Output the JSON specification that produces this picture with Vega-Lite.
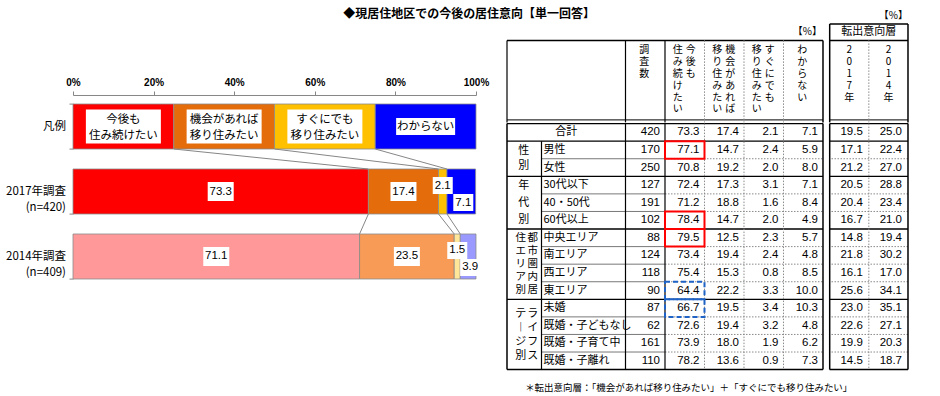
{
"$schema":"https://vega.github.io/schema/vega-lite/v6.json",
"padding":{"left":5,"top":1.6,"right":5,"bottom":0},
"autosize":{"type":"pad"},
"title":{"text":"◆現居住地区での今後の居住意向【単一回答】","anchor":"middle","frame":"bounds","fontSize":12,"fontWeight":"bold","font":"Noto Sans CJK JP","color":"#000","offset":-19,"dx":12},
"config":{"view":{"stroke":null},"font":"Noto Sans CJK JP","text":{"font":"Noto Sans CJK JP","color":"#000"}},
"datasets":{
"rows":[
{"row":"合計","調査数":420,"今後も住み続けたい":73.3,"機会があれば移り住みたい":17.4,"すぐにでも移り住みたい":2.1,"わからない":7.1,"2017年":19.5,"2014年":25.0},
{"row":"男性","調査数":170,"今後も住み続けたい":77.1,"機会があれば移り住みたい":14.7,"すぐにでも移り住みたい":2.4,"わからない":5.9,"2017年":17.1,"2014年":22.4},
{"row":"女性","調査数":250,"今後も住み続けたい":70.8,"機会があれば移り住みたい":19.2,"すぐにでも移り住みたい":2.0,"わからない":8.0,"2017年":21.2,"2014年":27.0},
{"row":"30代以下","調査数":127,"今後も住み続けたい":72.4,"機会があれば移り住みたい":17.3,"すぐにでも移り住みたい":3.1,"わからない":7.1,"2017年":20.5,"2014年":28.8},
{"row":"40・50代","調査数":191,"今後も住み続けたい":71.2,"機会があれば移り住みたい":18.8,"すぐにでも移り住みたい":1.6,"わからない":8.4,"2017年":20.4,"2014年":23.4},
{"row":"60代以上","調査数":102,"今後も住み続けたい":78.4,"機会があれば移り住みたい":14.7,"すぐにでも移り住みたい":2.0,"わからない":4.9,"2017年":16.7,"2014年":21.0},
{"row":"中央エリア","調査数":88,"今後も住み続けたい":79.5,"機会があれば移り住みたい":12.5,"すぐにでも移り住みたい":2.3,"わからない":5.7,"2017年":14.8,"2014年":19.4},
{"row":"南エリア","調査数":124,"今後も住み続けたい":73.4,"機会があれば移り住みたい":19.4,"すぐにでも移り住みたい":2.4,"わからない":4.8,"2017年":21.8,"2014年":30.2},
{"row":"西エリア","調査数":118,"今後も住み続けたい":75.4,"機会があれば移り住みたい":15.3,"すぐにでも移り住みたい":0.8,"わからない":8.5,"2017年":16.1,"2014年":17.0},
{"row":"東エリア","調査数":90,"今後も住み続けたい":64.4,"機会があれば移り住みたい":22.2,"すぐにでも移り住みたい":3.3,"わからない":10.0,"2017年":25.6,"2014年":34.1},
{"row":"未婚","調査数":87,"今後も住み続けたい":66.7,"機会があれば移り住みたい":19.5,"すぐにでも移り住みたい":3.4,"わからない":10.3,"2017年":23.0,"2014年":35.1},
{"row":"既婚・子どもなし","調査数":62,"今後も住み続けたい":72.6,"機会があれば移り住みたい":19.4,"すぐにでも移り住みたい":3.2,"わからない":4.8,"2017年":22.6,"2014年":27.1},
{"row":"既婚・子育て中","調査数":161,"今後も住み続けたい":73.9,"機会があれば移り住みたい":18.0,"すぐにでも移り住みたい":1.9,"わからない":6.2,"2017年":19.9,"2014年":20.3},
{"row":"既婚・子離れ","調査数":110,"今後も住み続けたい":78.2,"機会があれば移り住みたい":13.6,"すぐにでも移り住みたい":0.9,"わからない":7.3,"2017年":14.5,"2014年":18.7}
],
"bars":[
{"survey":"凡例","cat":"今後も住み続けたい","k":1,"value":25,"label":"今後も\n住み続けたい"},
{"survey":"凡例","cat":"機会があれば移り住みたい","k":2,"value":25,"label":"機会があれば\n移り住みたい"},
{"survey":"凡例","cat":"すぐにでも移り住みたい","k":3,"value":25,"label":"すぐにでも\n移り住みたい"},
{"survey":"凡例","cat":"わからない","k":4,"value":25,"label":"わからない"},
{"survey":"2017年調査\n(n=420)","cat":"今後も住み続けたい","k":1,"value":73.3},
{"survey":"2017年調査\n(n=420)","cat":"機会があれば移り住みたい","k":2,"value":17.4},
{"survey":"2017年調査\n(n=420)","cat":"すぐにでも移り住みたい","k":3,"value":2.1},
{"survey":"2017年調査\n(n=420)","cat":"わからない","k":4,"value":7.1},
{"survey":"2014年調査\n(n=409)","cat":"今後も住み続けたい","k":1,"value":71.1},
{"survey":"2014年調査\n(n=409)","cat":"機会があれば移り住みたい","k":2,"value":23.5},
{"survey":"2014年調査\n(n=409)","cat":"すぐにでも移り住みたい","k":3,"value":1.5},
{"survey":"2014年調査\n(n=409)","cat":"わからない","k":4,"value":3.9}
]
},
"bounds":"flush",
"spacing":31,
"hconcat":[
{
"width":403,"height":282.4,
"data":{"name":"bars"},
"resolve":{"scale":{"color":"independent"}},
"encoding":{
 "y":{"field":"survey","type":"nominal","scale":{"domain":["凡例","2017年調査\n(n=420)","2014年調査\n(n=409)"],"paddingInner":0.3077,"paddingOuter":0.8262,"align":0.8976},
  "axis":{"title":null,"domain":false,"tickBand":"extent","tickSize":4,"tickColor":"#868686","labelFont":"Noto Sans CJK JP","labelFontSize":11.5,"labelColor":"#000","labelPadding":3.5,"labelExpr":"split(datum.label, '\\n')","labelLineHeight":16}},
 "x":{"field":"value","type":"quantitative","scale":{"domain":[0,100],"nice":false},
  "axis":{"orient":"top","offset":-87.4,"values":[0,20,40,60,80,100],"labelExpr":"datum.value + '%'","title":null,"grid":false,"domainColor":"#868686","tickColor":"#868686","tickSize":4,"labelFontSize":10,"labelFontWeight":"bold","labelFont":"Liberation Sans","labelColor":"#000","labelPadding":3,"labelFlush":false}}
},
"layer":[
 {"transform":[{"filter":{"not":{"field":"survey","equal":"2014年調査\n(n=409)"}}}],
  "mark":{"type":"bar","stroke":"#8c8c8c","strokeWidth":0.8},
  "encoding":{"color":{"field":"cat","type":"nominal","scale":{"domain":["今後も住み続けたい","機会があれば移り住みたい","すぐにでも移り住みたい","わからない"],"range":["#FF0000","#E46C0A","#FFC000","#0000FF"]},"legend":null},"order":{"field":"k","type":"quantitative"}}},
 {"transform":[{"filter":{"field":"survey","equal":"2014年調査\n(n=409)"}}],
  "mark":{"type":"bar","stroke":"#8c8c8c","strokeWidth":0.8},
  "encoding":{"color":{"field":"cat","type":"nominal","scale":{"domain":["今後も住み続けたい","機会があれば移り住みたい","すぐにでも移り住みたい","わからない"],"range":["#FF9999","#F79B57","#FFE699","#9999FF"]},"legend":null},"order":{"field":"k","type":"quantitative"}}},
 {"data":{"values":[
   {"survey":"凡例","to":"2017年調査\n(n=420)","a":25,"b":73.3},
   {"survey":"凡例","to":"2017年調査\n(n=420)","a":50,"b":90.7},
   {"survey":"凡例","to":"2017年調査\n(n=420)","a":75,"b":92.8},
   {"survey":"2017年調査\n(n=420)","to":"2014年調査\n(n=409)","a":73.3,"b":71.1},
   {"survey":"2017年調査\n(n=420)","to":"2014年調査\n(n=409)","a":90.7,"b":94.6},
   {"survey":"2017年調査\n(n=420)","to":"2014年調査\n(n=409)","a":92.8,"b":96.1}]},
  "mark":{"type":"rule","color":"#868686","strokeWidth":1,"yOffset":22.5,"y2Offset":-22.5},
  "encoding":{"x":{"field":"a","type":"quantitative"},"x2":{"field":"b"},"y2":{"field":"to"}}},
 {"data":{"values":[{"survey":"凡例","to":"2014年調査\n(n=409)"}]},
  "mark":{"type":"rule","color":"#868686","strokeWidth":1,"yOffset":-32.5,"y2Offset":32.5},
  "encoding":{"x":{"datum":0,"type":"quantitative"},"y2":{"field":"to"}}},
 {"data":{"values":[{"survey":"凡例","to":"2014年調査\n(n=409)"}]},
  "mark":{"type":"rule","color":"#868686","strokeWidth":1,"yOffset":-32.5,"y2Offset":22.5},
  "encoding":{"x":{"datum":100,"type":"quantitative"},"y2":{"field":"to"}}},
 {"transform":[{"stack":"value","groupby":["survey"],"sort":[{"field":"k","order":"ascending"}],"as":["v0","v1"]},{"fold":["v0","v1"],"as":["edge","pos"]},{"aggregate":[{"op":"mean","field":"pos","as":"mid"}],"groupby":["survey","cat","k","value","label"]},{"filter":"datum.survey=='凡例' && datum.k<4"}],
  "mark":{"type":"point","shape":"M-1,-0.453H1V0.453H-1Z","size":5625,"filled":true,"color":"#FFFFFF","fill":"#FFFFFF","opacity":1,"strokeWidth":0},
  "encoding":{"x":{"field":"mid","type":"quantitative"}}},
 {"transform":[{"stack":"value","groupby":["survey"],"sort":[{"field":"k","order":"ascending"}],"as":["v0","v1"]},{"fold":["v0","v1"],"as":["edge","pos"]},{"aggregate":[{"op":"mean","field":"pos","as":"mid"}],"groupby":["survey","cat","k","value","label"]},{"filter":"datum.survey=='凡例' && datum.k==4"}],
  "mark":{"type":"point","shape":"M-1,-0.29H1V0.29H-1Z","size":3481,"filled":true,"color":"#FFFFFF","fill":"#FFFFFF","opacity":1,"strokeWidth":0},
  "encoding":{"x":{"field":"mid","type":"quantitative"}}},
 {"transform":[{"stack":"value","groupby":["survey"],"sort":[{"field":"k","order":"ascending"}],"as":["v0","v1"]},{"fold":["v0","v1"],"as":["edge","pos"]},{"aggregate":[{"op":"mean","field":"pos","as":"mid"}],"groupby":["survey","cat","k","value","label"]},{"filter":"datum.survey!='凡例' && datum.k<=2"}],
  "mark":{"type":"point","shape":"M-1,-0.73H1V0.73H-1Z","size":676,"filled":true,"color":"#FFFFFF","fill":"#FFFFFF","opacity":1,"strokeWidth":0},
  "encoding":{"x":{"field":"mid","type":"quantitative"}}},
 {"transform":[{"stack":"value","groupby":["survey"],"sort":[{"field":"k","order":"ascending"}],"as":["v0","v1"]},{"fold":["v0","v1"],"as":["edge","pos"]},{"aggregate":[{"op":"mean","field":"pos","as":"mid"}],"groupby":["survey","cat","k","value","label"]},{"filter":"datum.survey!='凡例' && datum.k==3"}],
  "mark":{"type":"point","shape":"M-1,-0.85H1V0.85H-1Z","size":400,"filled":true,"color":"#FFFFFF","fill":"#FFFFFF","opacity":1,"strokeWidth":0,"yOffset":-6},
  "encoding":{"x":{"field":"mid","type":"quantitative"}}},
 {"transform":[{"stack":"value","groupby":["survey"],"sort":[{"field":"k","order":"ascending"}],"as":["v0","v1"]},{"fold":["v0","v1"],"as":["edge","pos"]},{"aggregate":[{"op":"mean","field":"pos","as":"mid"}],"groupby":["survey","cat","k","value","label"]},{"filter":"datum.survey!='凡例' && datum.k==4"}],
  "mark":{"type":"point","shape":"M-1,-0.85H1V0.85H-1Z","size":400,"filled":true,"color":"#FFFFFF","fill":"#FFFFFF","opacity":1,"strokeWidth":0,"yOffset":11,"xOffset":2},
  "encoding":{"x":{"field":"mid","type":"quantitative"}}},
 {"transform":[{"stack":"value","groupby":["survey"],"sort":[{"field":"k","order":"ascending"}],"as":["v0","v1"]},{"fold":["v0","v1"],"as":["edge","pos"]},{"aggregate":[{"op":"mean","field":"pos","as":"mid"}],"groupby":["survey","cat","k","value","label"]},{"filter":"datum.survey=='凡例' && datum.k<4"}],
  "mark":{"type":"text","lineBreak":"\n","fontSize":11.5,"lineHeight":17,"baseline":"top","yOffset":-13,"font":"Noto Sans CJK JP"},
  "encoding":{"x":{"field":"mid","type":"quantitative"},"text":{"field":"label"}}},
 {"transform":[{"stack":"value","groupby":["survey"],"sort":[{"field":"k","order":"ascending"}],"as":["v0","v1"]},{"fold":["v0","v1"],"as":["edge","pos"]},{"aggregate":[{"op":"mean","field":"pos","as":"mid"}],"groupby":["survey","cat","k","value","label"]},{"filter":"datum.survey=='凡例' && datum.k==4"}],
  "mark":{"type":"text","fontSize":11.5,"font":"Noto Sans CJK JP"},
  "encoding":{"x":{"field":"mid","type":"quantitative"},"text":{"field":"label"}}},
 {"transform":[{"stack":"value","groupby":["survey"],"sort":[{"field":"k","order":"ascending"}],"as":["v0","v1"]},{"fold":["v0","v1"],"as":["edge","pos"]},{"aggregate":[{"op":"mean","field":"pos","as":"mid"}],"groupby":["survey","cat","k","value","label"]},{"filter":"datum.survey!='凡例' && datum.k<=2"}],
  "mark":{"type":"text","fontSize":11.5,"font":"Liberation Sans"},
  "encoding":{"x":{"field":"mid","type":"quantitative"},"text":{"field":"value","format":".1f"}}},
 {"transform":[{"stack":"value","groupby":["survey"],"sort":[{"field":"k","order":"ascending"}],"as":["v0","v1"]},{"fold":["v0","v1"],"as":["edge","pos"]},{"aggregate":[{"op":"mean","field":"pos","as":"mid"}],"groupby":["survey","cat","k","value","label"]},{"filter":"datum.survey!='凡例' && datum.k==3"}],
  "mark":{"type":"text","fontSize":11.5,"font":"Liberation Sans","yOffset":-6},
  "encoding":{"x":{"field":"mid","type":"quantitative"},"text":{"field":"value","format":".1f"}}},
 {"transform":[{"stack":"value","groupby":["survey"],"sort":[{"field":"k","order":"ascending"}],"as":["v0","v1"]},{"fold":["v0","v1"],"as":["edge","pos"]},{"aggregate":[{"op":"mean","field":"pos","as":"mid"}],"groupby":["survey","cat","k","value","label"]},{"filter":"datum.survey!='凡例' && datum.k==4"}],
  "mark":{"type":"text","fontSize":11.5,"font":"Liberation Sans","yOffset":11,"xOffset":2},
  "encoding":{"x":{"field":"mid","type":"quantitative"},"text":{"field":"value","format":".1f"}}}
]
},
{
"vconcat":[
 {"hconcat":[
  {"width":316,"height":114.8,
   "layer":[
    {"data":{"values":[
      {"col":"調査数","line":0,"t":"調\n査\n数"},
      {"col":"今後も住み続けたい","line":1,"t":"今\n後\nも"},
      {"col":"今後も住み続けたい","line":2,"t":"住\nみ\n続\nけ\nた\nい"},
      {"col":"機会があれば移り住みたい","line":1,"t":"機\n会\nが\nあ\nれ\nば"},
      {"col":"機会があれば移り住みたい","line":2,"t":"移\nり\n住\nみ\nた\nい"},
      {"col":"すぐにでも移り住みたい","line":1,"t":"す\nぐ\nに\nで\nも"},
      {"col":"すぐにでも移り住みたい","line":2,"t":"移\nり\n住\nみ\nた\nい"},
      {"col":"わからない","line":0,"t":"わ\nか\nら\nな\nい"}]},
     "layer":[
      {"transform":[{"filter":"datum.line==0"}],"mark":{"type":"text","baseline":"top","lineBreak":"\n","lineHeight":11.8,"fontSize":10,"yOffset":5,"xOffset":-1}},
      {"transform":[{"filter":"datum.line==1"}],"mark":{"type":"text","baseline":"top","lineBreak":"\n","lineHeight":11.8,"fontSize":10,"yOffset":5,"xOffset":6}},
      {"transform":[{"filter":"datum.line==2"}],"mark":{"type":"text","baseline":"top","lineBreak":"\n","lineHeight":11.8,"fontSize":10,"yOffset":5,"xOffset":-7}}
     ],
     "encoding":{"x":{"field":"col","type":"nominal","scale":{"domain":["区分","項目","項目2","調査数","今後も住み続けたい","機会があれば移り住みたい","すぐにでも移り住みたい","わからない"],"padding":0},"axis":null},
      "y":{"datum":"h1","type":"nominal","bandPosition":0,"scale":{"domain":["cap0","cap","h1","h2","h3","h4","h5"],"padding":0},"axis":null},
      "text":{"field":"t"}}},
    {"data":{"values":[{}]},"mark":{"type":"rule","strokeWidth":1.5,"color":"#000"},
     "encoding":{"y":{"datum":"h1","type":"nominal","bandPosition":0,"scale":{"domain":["cap0","cap","h1","h2","h3","h4","h5"],"padding":0},"axis":null}}},
    {"data":{"values":[{}]},"mark":{"type":"rule","strokeWidth":1,"color":"#000","yOffset":-2.5},
     "encoding":{"y":{"datum":"h5","type":"nominal","bandPosition":1,"scale":{"domain":["cap0","cap","h1","h2","h3","h4","h5"],"padding":0},"axis":null}}},
    {"data":{"values":[{"col":"区分"},{"col":"調査数"},{"col":"今後も住み続けたい"}]},"mark":{"type":"rule","strokeWidth":1.2,"color":"#000"},
     "encoding":{"x":{"field":"col","type":"nominal","bandPosition":0,"scale":{"domain":["区分","項目","項目2","調査数","今後も住み続けたい","機会があれば移り住みたい","すぐにでも移り住みたい","わからない"],"padding":0},"axis":null},
      "y":{"datum":"h1","type":"nominal","bandPosition":0,"scale":{"domain":["cap0","cap","h1","h2","h3","h4","h5"],"padding":0},"axis":null},
      "y2":{"datum":"h5","bandPosition":1}}},
    {"data":{"values":[{}]},"mark":{"type":"rule","strokeWidth":1.5,"color":"#000"},
     "encoding":{"x":{"datum":"わからない","type":"nominal","bandPosition":1,"scale":{"domain":["区分","項目","項目2","調査数","今後も住み続けたい","機会があれば移り住みたい","すぐにでも移り住みたい","わからない"],"padding":0},"axis":null},
      "y":{"datum":"h1","type":"nominal","bandPosition":0,"scale":{"domain":["cap0","cap","h1","h2","h3","h4","h5"],"padding":0},"axis":null},
      "y2":{"datum":"h5","bandPosition":1}}},
    {"data":{"values":[{"col":"機会があれば移り住みたい"},{"col":"すぐにでも移り住みたい"},{"col":"わからない"}]},"mark":{"type":"rule","strokeWidth":1,"color":"#8a8a8a","strokeDash":[1.5,1.5]},
     "encoding":{"x":{"field":"col","type":"nominal","bandPosition":0,"scale":{"domain":["区分","項目","項目2","調査数","今後も住み続けたい","機会があれば移り住みたい","すぐにでも移り住みたい","わからない"],"padding":0},"axis":null},
      "y":{"datum":"h1","type":"nominal","bandPosition":0,"scale":{"domain":["cap0","cap","h1","h2","h3","h4","h5"],"padding":0},"axis":null},
      "y2":{"datum":"h5","bandPosition":1}}},
    {"data":{"values":[{}]},"mark":{"type":"text","align":"right","fontSize":10,"xOffset":-1},
     "encoding":{"x":{"datum":"わからない","type":"nominal","bandPosition":1,"scale":{"domain":["区分","項目","項目2","調査数","今後も住み続けたい","機会があれば移り住みたい","すぐにでも移り住みたい","わからない"],"padding":0},"axis":null},
      "y":{"datum":"cap","type":"nominal","scale":{"domain":["cap0","cap","h1","h2","h3","h4","h5"],"padding":0},"axis":null},
      "text":{"value":"【%】"}}}
   ]},
  {"width":78.3,"height":114.8,
   "layer":[
    {"data":{"values":[{"col":"2017年","t":"2\n0\n1\n7\n年"},{"col":"2014年","t":"2\n0\n1\n4\n年"}]},
     "mark":{"type":"text","baseline":"top","lineBreak":"\n","lineHeight":11.8,"fontSize":10,"yOffset":5},
     "encoding":{"x":{"field":"col","type":"nominal","scale":{"domain":["2017年","2014年"],"padding":0},"axis":null},
      "y":{"datum":"h1","type":"nominal","bandPosition":0,"scale":{"domain":["cap0","cap","h1","h2","h3","h4","h5"],"padding":0},"axis":null},
      "text":{"field":"t"}}},
    {"data":{"values":[{"r":"cap"},{"r":"h1"}]},"mark":{"type":"rule","strokeWidth":1.5,"color":"#000"},
     "encoding":{"y":{"field":"r","type":"nominal","bandPosition":0,"scale":{"domain":["cap0","cap","h1","h2","h3","h4","h5"],"padding":0},"axis":null}}},
    {"data":{"values":[{}]},"mark":{"type":"rule","strokeWidth":1,"color":"#000","yOffset":-2.5},
     "encoding":{"y":{"datum":"h5","type":"nominal","bandPosition":1,"scale":{"domain":["cap0","cap","h1","h2","h3","h4","h5"],"padding":0},"axis":null}}},
    {"data":{"values":[{}]},"mark":{"type":"rule","strokeWidth":1.5,"color":"#000"},
     "encoding":{"x":{"datum":"2017年","type":"nominal","bandPosition":0,"scale":{"domain":["2017年","2014年"],"padding":0},"axis":null},
      "y":{"datum":"cap","type":"nominal","bandPosition":0,"scale":{"domain":["cap0","cap","h1","h2","h3","h4","h5"],"padding":0},"axis":null},
      "y2":{"datum":"h5","bandPosition":1}}},
    {"data":{"values":[{}]},"mark":{"type":"rule","strokeWidth":1.5,"color":"#000"},
     "encoding":{"x":{"datum":"2014年","type":"nominal","bandPosition":1,"scale":{"domain":["2017年","2014年"],"padding":0},"axis":null},
      "y":{"datum":"cap","type":"nominal","bandPosition":0,"scale":{"domain":["cap0","cap","h1","h2","h3","h4","h5"],"padding":0},"axis":null},
      "y2":{"datum":"h5","bandPosition":1}}},
    {"data":{"values":[{}]},"mark":{"type":"rule","strokeWidth":1,"color":"#8a8a8a","strokeDash":[1.5,1.5]},
     "encoding":{"x":{"datum":"2014年","type":"nominal","bandPosition":0,"scale":{"domain":["2017年","2014年"],"padding":0},"axis":null},
      "y":{"datum":"h1","type":"nominal","bandPosition":0,"scale":{"domain":["cap0","cap","h1","h2","h3","h4","h5"],"padding":0},"axis":null},
      "y2":{"datum":"h5","bandPosition":1}}},
    {"data":{"values":[{}]},"mark":{"type":"text","fontSize":11},
     "encoding":{"x":{"datum":"2017年","type":"nominal","bandPosition":1,"scale":{"domain":["2017年","2014年"],"padding":0},"axis":null},
      "y":{"datum":"cap","type":"nominal","scale":{"domain":["cap0","cap","h1","h2","h3","h4","h5"],"padding":0},"axis":null},
      "text":{"value":"転出意向層"}}},
    {"data":{"values":[{}]},"mark":{"type":"text","align":"right","fontSize":10},
     "encoding":{"x":{"datum":"2014年","type":"nominal","bandPosition":1,"scale":{"domain":["2017年","2014年"],"padding":0},"axis":null},
      "y":{"datum":"cap0","type":"nominal","scale":{"domain":["cap0","cap","h1","h2","h3","h4","h5"],"padding":0},"axis":null},
      "text":{"value":"【%】"}}}
   ]}
 ],"spacing":6.7,"bounds":"flush"},
 {"hconcat":[
  {"width":316,"height":246,
   "data":{"name":"rows"},
   "layer":[
    {"mark":{"type":"text","align":"right","fontSize":11.5,"font":"Liberation Sans","xOffset":-5},
     "encoding":{"x":{"datum":"調査数","type":"nominal","bandPosition":1,"scale":{"domain":["区分","項目","項目2","調査数","今後も住み続けたい","機会があれば移り住みたい","すぐにでも移り住みたい","わからない"],"padding":0},"axis":null},
      "y":{"field":"row","type":"nominal","scale":{"domain":["合計","男性","女性","30代以下","40・50代","60代以上","中央エリア","南エリア","西エリア","東エリア","未婚","既婚・子どもなし","既婚・子育て中","既婚・子離れ"],"padding":0},"axis":null},
      "text":{"field":"調査数","type":"quantitative","format":"d"}}},
    {"transform":[{"fold":["今後も住み続けたい","機会があれば移り住みたい","すぐにでも移り住みたい","わからない"],"as":["col","v"]}],
     "mark":{"type":"text","align":"right","fontSize":11.5,"font":"Liberation Sans","xOffset":-5},
     "encoding":{"x":{"field":"col","type":"nominal","bandPosition":1,"scale":{"domain":["区分","項目","項目2","調査数","今後も住み続けたい","機会があれば移り住みたい","すぐにでも移り住みたい","わからない"],"padding":0},"axis":null},
      "y":{"field":"row","type":"nominal","scale":{"domain":["合計","男性","女性","30代以下","40・50代","60代以上","中央エリア","南エリア","西エリア","東エリア","未婚","既婚・子どもなし","既婚・子育て中","既婚・子離れ"],"padding":0},"axis":null},
      "text":{"field":"v","type":"quantitative","format":".1f"}}},
    {"transform":[{"filter":"datum.row!='合計'"}],
     "mark":{"type":"text","align":"left","fontSize":11,"xOffset":-3},
     "encoding":{"x":{"datum":"項目","type":"nominal","bandPosition":0,"scale":{"domain":["区分","項目","項目2","調査数","今後も住み続けたい","機会があれば移り住みたい","すぐにでも移り住みたい","わからない"],"padding":0},"axis":null},
      "y":{"field":"row","type":"nominal","scale":{"domain":["合計","男性","女性","30代以下","40・50代","60代以上","中央エリア","南エリア","西エリア","東エリア","未婚","既婚・子どもなし","既婚・子育て中","既婚・子離れ"],"padding":0},"axis":null},
      "text":{"field":"row"}}},
    {"transform":[{"filter":"datum.row=='合計'"}],
     "mark":{"type":"text","align":"center","fontSize":11},
     "encoding":{"x":{"datum":"項目","type":"nominal","scale":{"domain":["区分","項目","項目2","調査数","今後も住み続けたい","機会があれば移り住みたい","すぐにでも移り住みたい","わからない"],"padding":0},"axis":null},
      "y":{"field":"row","type":"nominal","scale":{"domain":["合計","男性","女性","30代以下","40・50代","60代以上","中央エリア","南エリア","西エリア","東エリア","未婚","既婚・子どもなし","既婚・子育て中","既婚・子離れ"],"padding":0},"axis":null},
      "text":{"field":"row"}}},
    {"data":{"values":[
      {"g":"性別","at":"男性","line":0,"t":"性\n別"},
      {"g":"年代別","at":"30代以下","line":0,"t":"年\n代\n別"},
      {"g":"都市圏内居住エリア別","at":"中央エリア","line":1,"t":"都\n市\n圏\n内\n居"},
      {"g":"都市圏内居住エリア別","at":"中央エリア","line":2,"t":"住\nエ\nリ\nア\n別"},
      {"g":"ライフステージ別","at":"未婚","line":1,"t":"ラ\nイ\nフ\nス"},
      {"g":"ライフステージ別","at":"未婚","line":2,"t":"テ\n︱\nジ\n別"}]},
     "encoding":{"x":{"datum":"区分","type":"nominal","scale":{"domain":["区分","項目","項目2","調査数","今後も住み続けたい","機会があれば移り住みたい","すぐにでも移り住みたい","わからない"],"padding":0},"axis":null},
      "y":{"field":"at","type":"nominal","bandPosition":0,"scale":{"domain":["合計","男性","女性","30代以下","40・50代","60代以上","中央エリア","南エリア","西エリア","東エリア","未婚","既婚・子どもなし","既婚・子育て中","既婚・子離れ"],"padding":0},"axis":null},
      "text":{"field":"t"}},
     "layer":[
      {"transform":[{"filter":"datum.g=='性別'"}],"mark":{"type":"text","baseline":"top","lineBreak":"\n","lineHeight":15,"fontSize":11,"xOffset":-3,"yOffset":4}},
      {"transform":[{"filter":"datum.g=='年代別'"}],"mark":{"type":"text","baseline":"top","lineBreak":"\n","lineHeight":17,"fontSize":11,"xOffset":-3,"yOffset":4}},
      {"transform":[{"filter":"datum.g=='都市圏内居住エリア別' && datum.line==1"}],"mark":{"type":"text","baseline":"top","lineBreak":"\n","lineHeight":13,"fontSize":10.5,"xOffset":6,"yOffset":4}},
      {"transform":[{"filter":"datum.g=='都市圏内居住エリア別' && datum.line==2"}],"mark":{"type":"text","baseline":"top","lineBreak":"\n","lineHeight":13,"fontSize":10.5,"xOffset":-6,"yOffset":4}},
      {"transform":[{"filter":"datum.g=='ライフステージ別' && datum.line==1"}],"mark":{"type":"text","baseline":"top","lineBreak":"\n","lineHeight":14,"fontSize":11,"xOffset":6,"yOffset":9}},
      {"transform":[{"filter":"datum.g=='ライフステージ別' && datum.line==2"}],"mark":{"type":"text","baseline":"top","lineBreak":"\n","lineHeight":14,"fontSize":11,"xOffset":-6,"yOffset":9}}
     ]},
    {"data":{"values":[{"row":"合計"},{"row":"男性"},{"row":"30代以下"},{"row":"中央エリア"},{"row":"未婚"}]},
     "mark":{"type":"rule","strokeWidth":1.3,"color":"#000"},
     "encoding":{"y":{"field":"row","type":"nominal","bandPosition":0,"scale":{"domain":["合計","男性","女性","30代以下","40・50代","60代以上","中央エリア","南エリア","西エリア","東エリア","未婚","既婚・子どもなし","既婚・子育て中","既婚・子離れ"],"padding":0},"axis":null}}},
    {"data":{"values":[{}]},"mark":{"type":"rule","strokeWidth":1.5,"color":"#000"},
     "encoding":{"y":{"datum":"既婚・子離れ","type":"nominal","bandPosition":1,"scale":{"domain":["合計","男性","女性","30代以下","40・50代","60代以上","中央エリア","南エリア","西エリア","東エリア","未婚","既婚・子どもなし","既婚・子育て中","既婚・子離れ"],"padding":0},"axis":null}}},
    {"data":{"values":[{"row":"女性"},{"row":"40・50代"},{"row":"60代以上"},{"row":"南エリア"},{"row":"西エリア"},{"row":"東エリア"},{"row":"既婚・子どもなし"},{"row":"既婚・子育て中"},{"row":"既婚・子離れ"}]},
     "mark":{"type":"rule","strokeWidth":0.8,"color":"#555","xOffset":-5},
     "encoding":{"y":{"field":"row","type":"nominal","bandPosition":0,"scale":{"domain":["合計","男性","女性","30代以下","40・50代","60代以上","中央エリア","南エリア","西エリア","東エリア","未婚","既婚・子どもなし","既婚・子育て中","既婚・子離れ"],"padding":0},"axis":null},
      "x":{"datum":"項目","type":"nominal","bandPosition":0,"scale":{"domain":["区分","項目","項目2","調査数","今後も住み続けたい","機会があれば移り住みたい","すぐにでも移り住みたい","わからない"],"padding":0},"axis":null},
      "x2":{"datum":"調査数","bandPosition":1}}},
    {"data":{"values":[{"row":"女性"},{"row":"40・50代"},{"row":"60代以上"},{"row":"南エリア"},{"row":"西エリア"},{"row":"東エリア"},{"row":"既婚・子どもなし"},{"row":"既婚・子育て中"},{"row":"既婚・子離れ"}]},
     "mark":{"type":"rule","strokeWidth":1,"color":"#8a8a8a","strokeDash":[1.5,1.5]},
     "encoding":{"y":{"field":"row","type":"nominal","bandPosition":0,"scale":{"domain":["合計","男性","女性","30代以下","40・50代","60代以上","中央エリア","南エリア","西エリア","東エリア","未婚","既婚・子どもなし","既婚・子育て中","既婚・子離れ"],"padding":0},"axis":null},
      "x":{"datum":"今後も住み続けたい","type":"nominal","bandPosition":0,"scale":{"domain":["区分","項目","項目2","調査数","今後も住み続けたい","機会があれば移り住みたい","すぐにでも移り住みたい","わからない"],"padding":0},"axis":null},
      "x2":{"datum":"わからない","bandPosition":1}}},
    {"data":{"values":[{"col":"区分"}]},"mark":{"type":"rule","strokeWidth":1.5,"color":"#000"},
     "encoding":{"x":{"field":"col","type":"nominal","bandPosition":0,"scale":{"domain":["区分","項目","項目2","調査数","今後も住み続けたい","機会があれば移り住みたい","すぐにでも移り住みたい","わからない"],"padding":0},"axis":null}}},
    {"data":{"values":[{"col":"わからない"}]},"mark":{"type":"rule","strokeWidth":1.5,"color":"#000"},
     "encoding":{"x":{"field":"col","type":"nominal","bandPosition":1,"scale":{"domain":["区分","項目","項目2","調査数","今後も住み続けたい","機会があれば移り住みたい","すぐにでも移り住みたい","わからない"],"padding":0},"axis":null}}},
    {"data":{"values":[{"col":"調査数"},{"col":"今後も住み続けたい"}]},"mark":{"type":"rule","strokeWidth":1.2,"color":"#000"},
     "encoding":{"x":{"field":"col","type":"nominal","bandPosition":0,"scale":{"domain":["区分","項目","項目2","調査数","今後も住み続けたい","機会があれば移り住みたい","すぐにでも移り住みたい","わからない"],"padding":0},"axis":null}}},
    {"data":{"values":[{"col":"機会があれば移り住みたい"},{"col":"すぐにでも移り住みたい"},{"col":"わからない"}]},"mark":{"type":"rule","strokeWidth":1,"color":"#8a8a8a","strokeDash":[1.5,1.5]},
     "encoding":{"x":{"field":"col","type":"nominal","bandPosition":0,"scale":{"domain":["区分","項目","項目2","調査数","今後も住み続けたい","機会があれば移り住みたい","すぐにでも移り住みたい","わからない"],"padding":0},"axis":null}}},
    {"data":{"values":[{}]},"mark":{"type":"rule","strokeWidth":1.2,"color":"#000","xOffset":-5},
     "encoding":{"x":{"datum":"項目","type":"nominal","bandPosition":0,"scale":{"domain":["区分","項目","項目2","調査数","今後も住み続けたい","機会があれば移り住みたい","すぐにでも移り住みたい","わからない"],"padding":0},"axis":null},
      "y":{"datum":"男性","type":"nominal","bandPosition":0,"scale":{"domain":["合計","男性","女性","30代以下","40・50代","60代以上","中央エリア","南エリア","西エリア","東エリア","未婚","既婚・子どもなし","既婚・子育て中","既婚・子離れ"],"padding":0},"axis":null},
      "y2":{"datum":"既婚・子離れ","bandPosition":1}}},
    {"data":{"values":[{"row":"男性","col":"今後も住み続けたい"},{"row":"60代以上","col":"今後も住み続けたい"},{"row":"中央エリア","col":"今後も住み続けたい"}]},
     "mark":{"type":"rect","filled":false,"stroke":"#FF0000","strokeWidth":2},
     "encoding":{"x":{"field":"col","type":"nominal","scale":{"domain":["区分","項目","項目2","調査数","今後も住み続けたい","機会があれば移り住みたい","すぐにでも移り住みたい","わからない"],"padding":0},"axis":null},
      "y":{"field":"row","type":"nominal","scale":{"domain":["合計","男性","女性","30代以下","40・50代","60代以上","中央エリア","南エリア","西エリア","東エリア","未婚","既婚・子どもなし","既婚・子育て中","既婚・子離れ"],"padding":0},"axis":null}}},
    {"data":{"values":[{"row":"東エリア","col":"今後も住み続けたい"},{"row":"未婚","col":"今後も住み続けたい"}]},
     "mark":{"type":"rect","filled":false,"stroke":"#1F63C6","strokeWidth":2,"strokeDash":[5,3]},
     "encoding":{"x":{"field":"col","type":"nominal","scale":{"domain":["区分","項目","項目2","調査数","今後も住み続けたい","機会があれば移り住みたい","すぐにでも移り住みたい","わからない"],"padding":0},"axis":null},
      "y":{"field":"row","type":"nominal","scale":{"domain":["合計","男性","女性","30代以下","40・50代","60代以上","中央エリア","南エリア","西エリア","東エリア","未婚","既婚・子どもなし","既婚・子育て中","既婚・子離れ"],"padding":0},"axis":null}}},
    {"data":{"values":[{}]},"mark":{"type":"text","align":"center","fontSize":9.5,"xOffset":4,"yOffset":27},
     "encoding":{"x":{"datum":"今後も住み続けたい","type":"nominal","scale":{"domain":["区分","項目","項目2","調査数","今後も住み続けたい","機会があれば移り住みたい","すぐにでも移り住みたい","わからない"],"padding":0},"axis":null},
      "y":{"datum":"既婚・子離れ","type":"nominal","scale":{"domain":["合計","男性","女性","30代以下","40・50代","60代以上","中央エリア","南エリア","西エリア","東エリア","未婚","既婚・子どもなし","既婚・子育て中","既婚・子離れ"],"padding":0},"axis":null},
      "text":{"value":"＊転出意向層：「機会があれば移り住みたい」＋「すぐにでも移り住みたい」"}}}
   ]},
  {"width":78.3,"height":246,
   "data":{"name":"rows"},
   "layer":[
    {"transform":[{"fold":["2017年","2014年"],"as":["col","v"]}],
     "mark":{"type":"text","align":"right","fontSize":11.5,"font":"Liberation Sans","xOffset":-6},
     "encoding":{"x":{"field":"col","type":"nominal","bandPosition":1,"scale":{"domain":["2017年","2014年"],"padding":0},"axis":null},
      "y":{"field":"row","type":"nominal","scale":{"domain":["合計","男性","女性","30代以下","40・50代","60代以上","中央エリア","南エリア","西エリア","東エリア","未婚","既婚・子どもなし","既婚・子育て中","既婚・子離れ"],"padding":0},"axis":null},
      "text":{"field":"v","type":"quantitative","format":".1f"}}},
    {"data":{"values":[{"row":"合計"},{"row":"男性"},{"row":"30代以下"},{"row":"中央エリア"},{"row":"未婚"}]},
     "mark":{"type":"rule","strokeWidth":1.3,"color":"#000"},
     "encoding":{"y":{"field":"row","type":"nominal","bandPosition":0,"scale":{"domain":["合計","男性","女性","30代以下","40・50代","60代以上","中央エリア","南エリア","西エリア","東エリア","未婚","既婚・子どもなし","既婚・子育て中","既婚・子離れ"],"padding":0},"axis":null}}},
    {"data":{"values":[{}]},"mark":{"type":"rule","strokeWidth":1.5,"color":"#000"},
     "encoding":{"y":{"datum":"既婚・子離れ","type":"nominal","bandPosition":1,"scale":{"domain":["合計","男性","女性","30代以下","40・50代","60代以上","中央エリア","南エリア","西エリア","東エリア","未婚","既婚・子どもなし","既婚・子育て中","既婚・子離れ"],"padding":0},"axis":null}}},
    {"data":{"values":[{"row":"女性"},{"row":"40・50代"},{"row":"60代以上"},{"row":"南エリア"},{"row":"西エリア"},{"row":"東エリア"},{"row":"既婚・子どもなし"},{"row":"既婚・子育て中"},{"row":"既婚・子離れ"}]},
     "mark":{"type":"rule","strokeWidth":1,"color":"#8a8a8a","strokeDash":[1.5,1.5]},
     "encoding":{"y":{"field":"row","type":"nominal","bandPosition":0,"scale":{"domain":["合計","男性","女性","30代以下","40・50代","60代以上","中央エリア","南エリア","西エリア","東エリア","未婚","既婚・子どもなし","既婚・子育て中","既婚・子離れ"],"padding":0},"axis":null}}},
    {"data":{"values":[{}]},"mark":{"type":"rule","strokeWidth":1.5,"color":"#000"},
     "encoding":{"x":{"datum":"2017年","type":"nominal","bandPosition":0,"scale":{"domain":["2017年","2014年"],"padding":0},"axis":null}}},
    {"data":{"values":[{}]},"mark":{"type":"rule","strokeWidth":1.5,"color":"#000"},
     "encoding":{"x":{"datum":"2014年","type":"nominal","bandPosition":1,"scale":{"domain":["2017年","2014年"],"padding":0},"axis":null}}},
    {"data":{"values":[{}]},"mark":{"type":"rule","strokeWidth":1,"color":"#8a8a8a","strokeDash":[1.5,1.5]},
     "encoding":{"x":{"datum":"2014年","type":"nominal","bandPosition":0,"scale":{"domain":["2017年","2014年"],"padding":0},"axis":null}}}
   ]}
 ],"spacing":6.7,"bounds":"flush"}
],
"spacing":-1
}
]
}
